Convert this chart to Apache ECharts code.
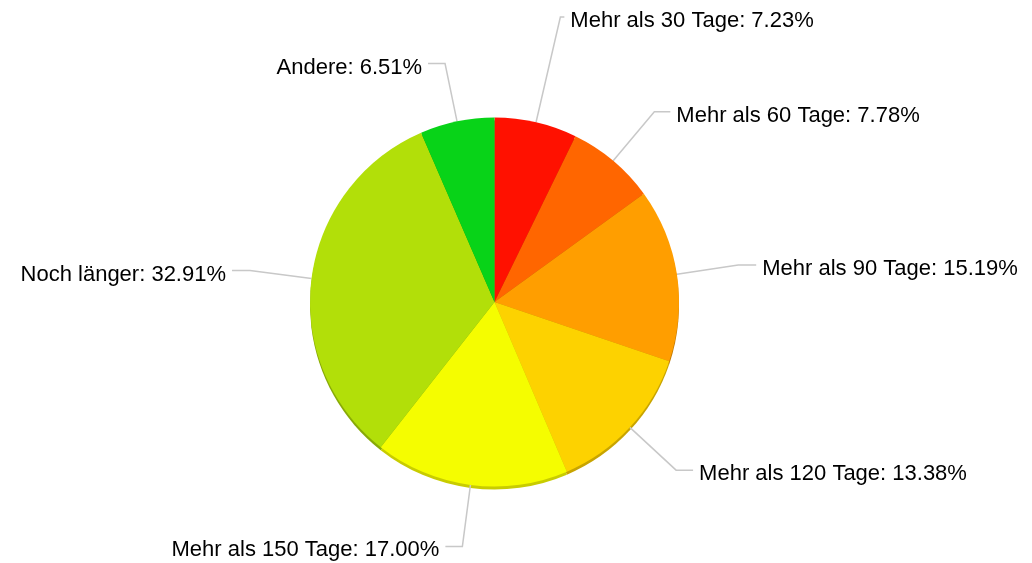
<!DOCTYPE html>
<html>
<head>
<meta charset="utf-8">
<script src="https://cdn.jsdelivr.net/npm/echarts@6/dist/echarts.min.js"></script>
<style>html,body{margin:0;padding:0;background:#fff;}#c{width:1032px;height:563px;}</style>
</head>
<body>
<div id="c"></div>
<script>
var categories = ['Mehr als 30 Tage', 'Mehr als 60 Tage', 'Mehr als 90 Tage', 'Mehr als 120 Tage', 'Mehr als 150 Tage', 'Noch länger', 'Andere'];
var values = [7.23, 7.78, 15.19, 13.38, 17.00, 32.91, 6.51];
var colors = ['#ff1100', '#ff6600', '#ff9e00', '#fdd200', '#f5fd00', '#b2df09', '#08d318'];
var rimColors = ['#b80c00', '#b84a00', '#c07800', '#c8a400', '#c8cc00', '#88aa06', '#06a012'];
var lineLen1 = [108, 64, 62, 63, 62, 62, 59];
var lineLen2 = [4, 16, 18, 17, 17, 18, 17];

var mainData = categories.map(function (n, i) {
  return {
    name: n, value: values[i],
    itemStyle: { color: colors[i] },
    labelLine: { length: lineLen1[i], length2: lineLen2[i] }
  };
});
var rimData = categories.map(function (n, i) {
  return { name: n, value: values[i], itemStyle: { color: rimColors[i] } };
});

var chart = echarts.init(document.getElementById('c'), null, { renderer: 'canvas' });
chart.setOption({
  animation: false,
  backgroundColor: '#ffffff',
  series: [
    {
      type: 'pie',
      silent: true,
      z: 1,
      center: [494.5, 305],
      radius: [0, 184.5],
      startAngle: 90,
      clockwise: true,
      label: { show: false },
      labelLine: { show: false },
      itemStyle: { borderWidth: 0 },
      data: rimData
    },
    {
      type: 'pie',
      z: 2,
      center: [494.5, 302],
      radius: [0, 184.5],
      startAngle: 90,
      clockwise: true,
      avoidLabelOverlap: false,
      itemStyle: { borderWidth: 0 },
      label: {
        show: true,
        position: 'outside',
        color: '#000',
        fontFamily: "'Liberation Sans'",
        fontSize: 22,
        distanceToLabelLine: 6,
        formatter: function (p) { return p.name + ': ' + p.value.toFixed(2) + '%'; }
      },
      labelLayout: { dy: 4 },
      labelLine: {
        show: true,
        smooth: false,
        lineStyle: { color: '#c8c8c8', width: 1.5 }
      },
      emphasis: { disabled: true },
      data: mainData
    }
  ]
});
</script>
</body>
</html>
